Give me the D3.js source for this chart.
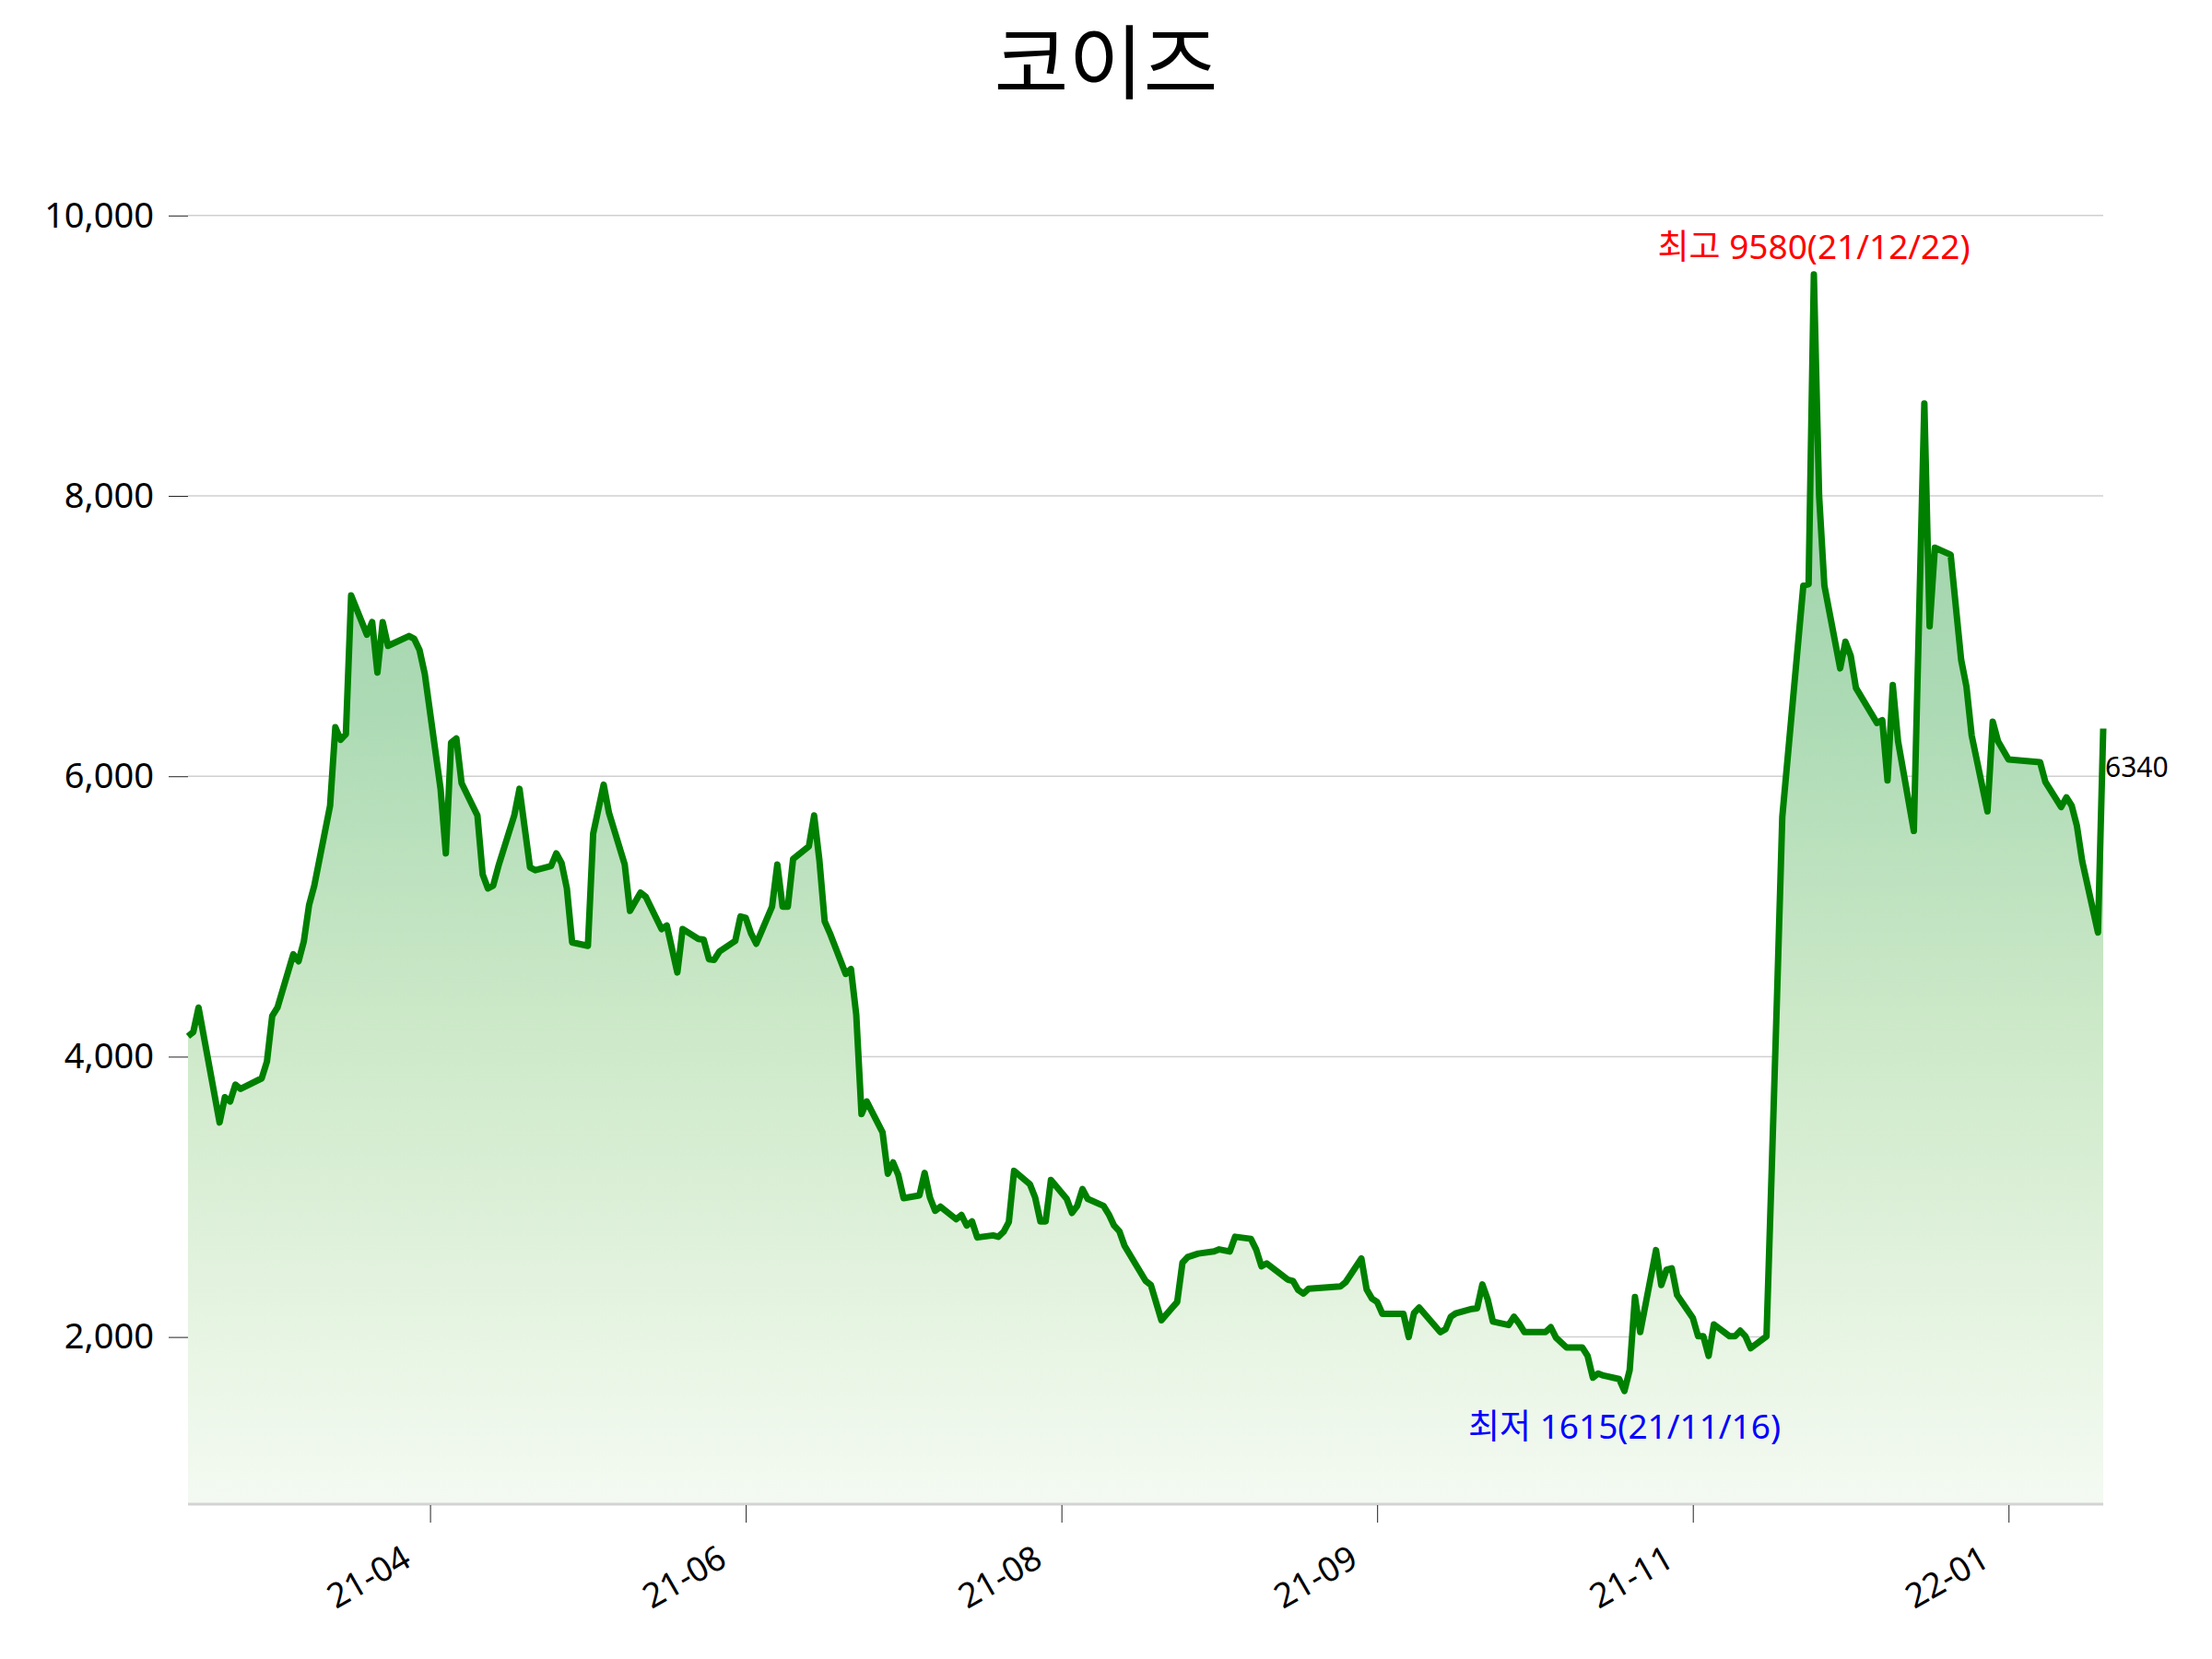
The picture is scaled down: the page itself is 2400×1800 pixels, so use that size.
<!DOCTYPE html>
<html>
<head>
<meta charset="utf-8">
<script src="https://cdn.jsdelivr.net/npm/d3@7"></script>
<style>
  body { margin: 0; background: #fff; }
  svg text { font-family: "Noto Sans", "Noto Sans CJK KR", sans-serif; }
</style>
</head>
<body>
<svg id="chart"></svg>
<script>
// chart data (closing prices, one row per month)
const title = '코이즈';

const dates = [
  '2021-02-16','2021-02-17','2021-02-18','2021-02-22','2021-02-23','2021-02-24','2021-02-25','2021-02-26',
  '2021-03-02','2021-03-03','2021-03-04','2021-03-05','2021-03-08','2021-03-09','2021-03-10','2021-03-11','2021-03-12','2021-03-15','2021-03-16','2021-03-17','2021-03-18','2021-03-19','2021-03-22','2021-03-23','2021-03-24','2021-03-25','2021-03-26','2021-03-30','2021-03-31',
  '2021-04-01','2021-04-02','2021-04-05','2021-04-06','2021-04-07','2021-04-08','2021-04-09','2021-04-12','2021-04-13','2021-04-14','2021-04-15','2021-04-16','2021-04-19','2021-04-20','2021-04-22','2021-04-23','2021-04-26','2021-04-27','2021-04-28','2021-04-29','2021-04-30',
  '2021-05-03','2021-05-04','2021-05-06','2021-05-07','2021-05-10','2021-05-11','2021-05-13','2021-05-14','2021-05-17','2021-05-18','2021-05-20','2021-05-21','2021-05-24','2021-05-25','2021-05-26','2021-05-27','2021-05-28','2021-05-31',
  '2021-06-01','2021-06-02','2021-06-03','2021-06-04','2021-06-07','2021-06-08','2021-06-09','2021-06-10','2021-06-11','2021-06-14','2021-06-15','2021-06-16','2021-06-17','2021-06-18','2021-06-21','2021-06-22','2021-06-23','2021-06-24','2021-06-25','2021-06-28','2021-06-29','2021-06-30',
  '2021-07-01','2021-07-02','2021-07-05','2021-07-06','2021-07-07','2021-07-08','2021-07-09','2021-07-12','2021-07-13','2021-07-14','2021-07-15','2021-07-16','2021-07-19','2021-07-20','2021-07-21','2021-07-22','2021-07-23','2021-07-26','2021-07-27','2021-07-28','2021-07-29','2021-07-30',
  '2021-08-02','2021-08-03','2021-08-04','2021-08-05','2021-08-06','2021-08-09','2021-08-10','2021-08-11','2021-08-12','2021-08-13','2021-08-17','2021-08-18','2021-08-20','2021-08-23','2021-08-24','2021-08-25','2021-08-27','2021-08-30','2021-08-31',
  '2021-09-02','2021-09-03','2021-09-06','2021-09-07','2021-09-08','2021-09-09','2021-09-13','2021-09-14','2021-09-15','2021-09-16','2021-09-17','2021-09-23','2021-09-24','2021-09-27','2021-09-28','2021-09-29','2021-09-30',
  '2021-10-01','2021-10-05','2021-10-06','2021-10-07','2021-10-08','2021-10-12','2021-10-13','2021-10-14','2021-10-15','2021-10-18','2021-10-19','2021-10-20','2021-10-21','2021-10-22','2021-10-25','2021-10-26','2021-10-27','2021-10-28',
  '2021-11-01','2021-11-02','2021-11-03','2021-11-05','2021-11-08','2021-11-09','2021-11-10','2021-11-11','2021-11-12','2021-11-15','2021-11-16','2021-11-17','2021-11-18','2021-11-19','2021-11-22','2021-11-23','2021-11-24','2021-11-25','2021-11-26','2021-11-29','2021-11-30',
  '2021-12-01','2021-12-02','2021-12-03','2021-12-06','2021-12-07','2021-12-08','2021-12-09','2021-12-10','2021-12-13','2021-12-14','2021-12-15','2021-12-16','2021-12-20','2021-12-21','2021-12-22','2021-12-23','2021-12-24','2021-12-27','2021-12-28','2021-12-29','2021-12-30',
  '2022-01-03','2022-01-04','2022-01-05','2022-01-06','2022-01-07','2022-01-10','2022-01-12','2022-01-13','2022-01-14','2022-01-17','2022-01-19','2022-01-20','2022-01-21','2022-01-24','2022-01-25','2022-01-26','2022-01-28',
  '2022-02-03','2022-02-04','2022-02-07','2022-02-08','2022-02-09','2022-02-10','2022-02-11','2022-02-14','2022-02-15'
];

const prices = [
  4145,4175,4350,3530,3710,3680,3800,3770,
  3845,3965,4290,4350,4730,4680,4820,5080,5220,5790,6350,6260,6300,7290,7010,7100,6740,7100,6930,7000,6980,
  6900,6730,5910,5450,6240,6270,5950,5720,5300,5200,5220,5360,5720,5910,5350,5330,5360,5450,5380,5200,4815,
  4790,5590,5940,5740,5370,5040,5170,5140,4910,4935,4600,4910,4840,4835,4695,4690,4750,4825,
  5000,4990,4880,4805,5070,5370,5070,5070,5410,5500,5720,5400,4965,4880,4590,4625,4300,3590,3680,3460,3165,3245,
  3155,2990,3010,3170,2995,2900,2930,2840,2870,2795,2825,2710,2725,2715,2750,2820,3185,3090,2995,2825,2825,3120,
  2985,2885,2935,3055,2985,2935,2875,2795,2755,2650,2400,2370,2120,2250,2530,2570,2595,2610,2625,
  2610,2715,2700,2625,2505,2525,2410,2400,2335,2310,2345,2360,2390,2560,2340,2275,2250,
  2165,2165,2000,2170,2210,2035,2055,2145,2170,2200,2205,2375,2270,2110,2085,2145,2095,2035,
  2035,2070,1995,1925,1925,1865,1710,1740,1725,1700,1615,1765,2285,2035,2620,2370,2480,2490,2300,2135,2005,
  2005,1865,2090,2005,2005,2045,2005,1920,2005,3205,4430,5710,7360,7370,9580,8000,7360,6770,6960,6860,6630,
  6380,6400,5970,6650,6250,5610,8660,7070,7630,7580,6830,6640,6290,5750,6390,6250,6120,
  6100,5960,5780,5850,5790,5645,5395,4885,6340
];

const tickDates = ['2021-04-03','2021-06-02','2021-08-01','2021-09-30','2021-11-29','2022-01-28'];
const tickLabels = ['21-04','21-06','21-08','21-09','21-11','22-01'];
const yTicks = [2000, 4000, 6000, 8000, 10000];

class PriceChart {

  constructor(_config, _data) {
    this.config = {
      parentElement: _config.parentElement,
      containerWidth: _config.containerWidth || 2400,
      containerHeight: _config.containerHeight || 1800,
      margin: { top: 152, bottom: 168, right: 118, left: 204 }
    }
    this.data = _data;
    this.initVis();
  }

  initVis() {
    let vis = this;

    vis.width = vis.config.containerWidth - vis.config.margin.left - vis.config.margin.right;
    vis.height = vis.config.containerHeight - vis.config.margin.top - vis.config.margin.bottom;

    vis.svg = d3.select(vis.config.parentElement)
      .attr('width', vis.config.containerWidth)
      .attr('height', vis.config.containerHeight);

    vis.chart = vis.svg.append('g')
      .attr('transform', `translate(${vis.config.margin.left}, ${vis.config.margin.top})`);

    vis.minD = d3.least(vis.data, d => d.close);
    vis.maxD = d3.greatest(vis.data, d => d.close);
    vis.lastD = vis.data[vis.data.length - 1];

    vis.xScale = d3.scaleTime()
      .domain(d3.extent(vis.data, d => d.date))
      .range([0, vis.width]);

    // bottom at half the low, top 10% above the high
    vis.yScale = d3.scaleLinear()
      .domain([vis.minD.close * 0.5, vis.maxD.close * 1.1])
      .range([vis.height, 0]);

    vis.updateVis();
  }

  updateVis() {
    let vis = this;

    // gradient under the line
    const grad = vis.svg.append('defs').append('linearGradient')
      .attr('id', 'areaGrad')
      .attr('gradientUnits', 'userSpaceOnUse')
      .attr('x1', 0).attr('x2', 0)
      .attr('y1', vis.yScale(vis.maxD.close))
      .attr('y2', vis.height);
    [[0, '#97cfa4'], [0.35, '#acdab4'], [0.6, '#cbe8c7'], [0.88, '#e9f5e5'], [1, '#f4faf2']]
      .forEach(s => grad.append('stop').attr('offset', s[0]).attr('stop-color', s[1]));

    // horizontal grid + y tick marks
    const yAxis = d3.axisLeft(vis.yScale)
      .tickValues(yTicks)
      .tickSize(21)
      .tickPadding(16)
      .tickFormat(d3.format(','));

    vis.chart.append('g')
      .attr('class', 'grid')
      .selectAll('line')
      .data(yTicks)
      .join('line')
      .attr('x1', 0)
      .attr('x2', vis.width)
      .attr('y1', d => vis.yScale(d))
      .attr('y2', d => vis.yScale(d))
      .attr('stroke', '#d0d0d0')
      .attr('stroke-width', 1.5);

    vis.yAxisGroup = vis.chart.append('g')
      .attr('class', 'axis y-axis')
      .call(yAxis);
    vis.yAxisGroup.select('.domain').remove();
    vis.yAxisGroup.selectAll('.tick line').attr('stroke', '#222').attr('stroke-width', 1);
    vis.yAxisGroup.selectAll('.tick text')
      .attr('font-size', 38)
      .attr('fill', '#000');

    // area + line
    vis.area = d3.area()
      .x(d => vis.xScale(d.date))
      .y0(vis.height)
      .y1(d => vis.yScale(d.close));

    vis.line = d3.line()
      .x(d => vis.xScale(d.date))
      .y(d => vis.yScale(d.close));

    vis.chart.append('path')
      .datum(vis.data)
      .attr('d', vis.area)
      .attr('fill', 'url(#areaGrad)');

    // x axis (light spine, dark ticks, rotated labels)
    const xAxis = d3.axisBottom(vis.xScale)
      .tickValues(tickDates.map(d3.timeParse('%Y-%m-%d')))
      .tickSize(20)
      .tickFormat((d, i) => tickLabels[i]);

    vis.xAxisGroup = vis.chart.append('g')
      .attr('class', 'axis x-axis')
      .attr('transform', `translate(0, ${vis.height})`)
      .call(xAxis);
    vis.xAxisGroup.select('.domain')
      .attr('d', `M0,0H${vis.width}`)
      .attr('stroke', '#d3d3d3')
      .attr('stroke-width', 3);
    vis.xAxisGroup.selectAll('.tick line')
      .attr('y1', 1)
      .attr('stroke', '#222')
      .attr('stroke-width', 1);
    vis.xAxisGroup.selectAll('.tick text')
      .attr('font-size', 37)
      .attr('fill', '#000')
      .attr('text-anchor', 'end')
      .attr('y', 0)
      .attr('dy', 0)
      .attr('transform', 'translate(-19, 66) rotate(-30)');

    vis.chart.append('path')
      .datum(vis.data)
      .attr('d', vis.line)
      .attr('fill', 'none')
      .attr('stroke', 'green')
      .attr('stroke-width', 7)
      .attr('stroke-linejoin', 'round');

    // high / low / last labels
    const fmt = d3.timeFormat('%y/%m/%d');
    vis.chart.append('text')
      .attr('x', vis.xScale(vis.maxD.date))
      .attr('y', vis.yScale(vis.maxD.close) - 17)
      .attr('text-anchor', 'middle')
      .attr('font-size', 37)
      .attr('fill', 'red')
      .text(`최고 ${vis.maxD.close}(${fmt(vis.maxD.date)})`);

    vis.chart.append('text')
      .attr('x', vis.xScale(vis.minD.date))
      .attr('y', vis.yScale(vis.minD.close) + 52)
      .attr('text-anchor', 'middle')
      .attr('font-size', 37)
      .attr('fill', 'blue')
      .text(`최저 ${vis.minD.close}(${fmt(vis.minD.date)})`);

    vis.chart.append('text')
      .attr('x', vis.xScale(vis.lastD.date) + 2)
      .attr('y', vis.yScale(vis.lastD.close) + 52)
      .attr('font-size', 30)
      .attr('fill', '#000')
      .text(vis.lastD.close);

    vis.svg.append('text')
      .attr('x', vis.config.containerWidth / 2)
      .attr('y', 100)
      .attr('text-anchor', 'middle')
      .attr('font-size', 88)
      .attr('fill', '#000')
      .text(title);
  }
}

const parse = d3.timeParse('%Y-%m-%d');
const data = dates.map((d, i) => ({ date: parse(d), close: prices[i] }));

new PriceChart({ parentElement: '#chart' }, data);
</script>
</body>
</html>
